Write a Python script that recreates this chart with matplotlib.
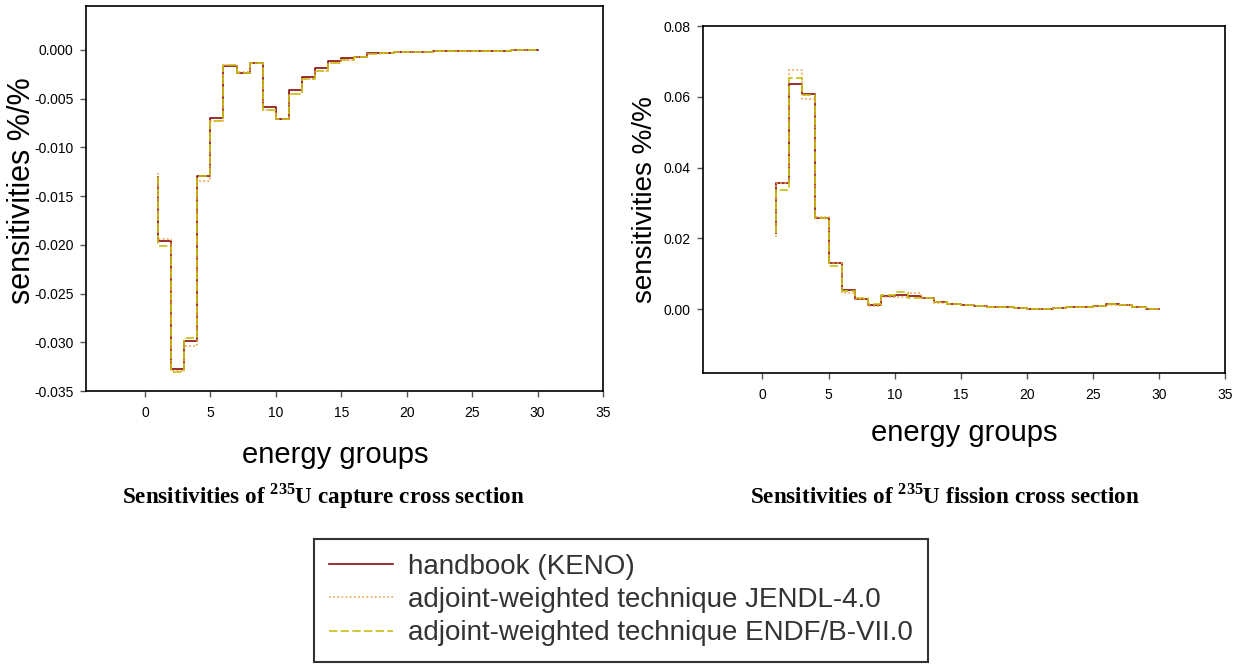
import matplotlib
matplotlib.use('Agg')
import matplotlib.pyplot as plt
from matplotlib.ticker import FormatStrFormatter

plt.rcParams['font.family'] = ['Liberation Sans', 'DejaVu Sans']
plt.rcParams['mathtext.fontset'] = 'custom'
plt.rcParams['mathtext.rm'] = 'Liberation Serif:bold'
plt.rcParams['mathtext.bf'] = 'Liberation Serif:bold'

# energy groups 1..30 (step plot, value at x holds over (x-1, x])
groups = list(range(1, 31))

capture_keno = [-0.0130, -0.0196, -0.0327, -0.0299, -0.0129, -0.0070, -0.0017, -0.0024,
                -0.0013, -0.0059, -0.0071, -0.0041, -0.0028, -0.0019, -0.0011, -0.0008,
                -0.0007, -0.0003, -0.0003, -0.0002, -0.0002, -0.0002, -0.0001, -0.0001,
                -0.0001, -0.0001, -0.0001, -0.0001, -0.00003, 0.0]
capture_jendl = [-0.0126, -0.0194, -0.0329, -0.0304, -0.0135, -0.0073, -0.0016, -0.0023,
                 -0.0013, -0.0062, -0.0071, -0.0045, -0.0030, -0.0022, -0.0013, -0.0010,
                 -0.0007, -0.0004, -0.0003, -0.0002, -0.0002, -0.0002, -0.0001, -0.0001,
                 -0.0001, -0.0001, -0.0001, -0.0001, -0.00003, 0.0]
capture_endf = [-0.0130, -0.0201, -0.0331, -0.0296, -0.0129, -0.0073, -0.0016, -0.0024,
                -0.0013, -0.0062, -0.0071, -0.0045, -0.0030, -0.0022, -0.0013, -0.0010,
                -0.0007, -0.0004, -0.0003, -0.0002, -0.0002, -0.0002, -0.0001, -0.0001,
                -0.0001, -0.0001, -0.0001, -0.0001, -0.00003, 0.0]

fission_keno = [0.0215, 0.0356, 0.0635, 0.0609, 0.0258, 0.0130, 0.0053, 0.0029, 0.0012,
                0.0038, 0.0041, 0.0038, 0.0033, 0.0020, 0.0016, 0.0012, 0.0008, 0.0006,
                0.0005, 0.0004, 0.0002, 0.0002, 0.0003, 0.0005, 0.0007, 0.0008, 0.0014,
                0.0012, 0.0007, 0.0000]
fission_jendl = [0.0204, 0.0358, 0.0677, 0.0593, 0.0260, 0.0132, 0.0045, 0.0028, 0.0009,
                 0.0034, 0.0036, 0.0045, 0.0033, 0.0018, 0.0014, 0.0012, 0.0008, 0.0006,
                 0.0005, 0.0004, 0.0002, 0.0002, 0.0003, 0.0005, 0.0007, 0.0008, 0.0013,
                 0.0012, 0.0006, 0.0000]
fission_endf = [0.0214, 0.0337, 0.0654, 0.0606, 0.0259, 0.0123, 0.0052, 0.0031, 0.0014,
                0.0039, 0.0048, 0.0033, 0.0033, 0.0020, 0.0014, 0.0012, 0.0008, 0.0006,
                0.0005, 0.0004, 0.0002, 0.0002, 0.0003, 0.0005, 0.0007, 0.0008, 0.0014,
                0.0012, 0.0007, 0.0002]

labels = ['handbook (KENO)',
          'adjoint-weighted technique JENDL-4.0',
          'adjoint-weighted technique ENDF/B-VII.0']
RED = '#8b0a0a'
ORANGE = '#f5a04a'
YELLOW = '#c8be14'

W, H = 1243, 664
fig = plt.figure(figsize=(W / 100, H / 100), dpi=100)

def box(l, t, r, b):
    return [l / W, 1 - b / H, (r - l) / W, (b - t) / H]

ax1 = fig.add_axes(box(86, 6, 603, 391))
ax2 = fig.add_axes(box(703, 26, 1225, 373))


def draw(ax, keno, jendl, endf, pad):
    ax.plot(groups, keno, drawstyle='steps-pre', color=RED, lw=1.2, label=labels[0])
    ax.plot(groups, jendl, drawstyle='steps-pre', color=ORANGE, lw=1.2, ls=(0, (1, 1.5)), label=labels[1])
    ax.plot(groups, endf, drawstyle='steps-pre', color=YELLOW, lw=1.2, ls=(0, (5, 2)), label=labels[2])
    ax.set_xlim(-4.5, 35)
    ax.set_xticks(range(0, 36, 5))
    ax.tick_params(direction='out', length=4, width=1, color='#555555', labelsize=10,
                   top=False, right=False)
    ax.tick_params(axis='x', pad=7)
    ax.tick_params(axis='y', pad=5)
    for s in ax.spines.values():
        s.set_linewidth(1.2)
    ax.set_xlabel('energy groups', fontsize=21, labelpad=pad)


draw(ax1, capture_keno, capture_jendl, capture_endf, 15)
ax1.xaxis.label.set_x(0.482)
ax1.set_ylim(-0.035, 0.0045)
ax1.set_yticks([-0.035, -0.030, -0.025, -0.020, -0.015, -0.010, -0.005, 0.0])
ax1.yaxis.set_major_formatter(FormatStrFormatter('%.3f'))
ax1.set_ylabel('sensitivities %/%', fontsize=22)
ax1.yaxis.set_label_coords(-0.095, 0.52)

draw(ax2, fission_keno, fission_jendl, fission_endf, 12)
ax2.set_ylim(-0.018, 0.08)
ax2.set_yticks([0.0, 0.02, 0.04, 0.06, 0.08])
ax2.yaxis.set_major_formatter(FormatStrFormatter('%.2f'))
ax2.set_ylabel('sensitivities %/%', fontsize=20)
ax2.yaxis.set_label_coords(-0.086, 0.5)

fig.text(323 / W, 1 - 496 / H, r'Sensitivities of $^{\mathbf{235}}$U capture cross section',
         family='Liberation Serif', weight='bold', fontsize=16.7, ha='center', va='center')
fig.text(945 / W, 1 - 496 / H, r'Sensitivities of $^{\mathbf{235}}$U fission cross section',
         family='Liberation Serif', weight='bold', fontsize=16.7, ha='center', va='center')

handles, _ = ax1.get_legend_handles_labels()
leg = fig.legend(handles, labels, loc='center', bbox_to_anchor=(621 / W, 1 - 600 / H),
                 fontsize=20, frameon=True, fancybox=False, handlelength=2.3,
                 labelspacing=0.26, borderpad=0.55, handletextpad=0.55, borderaxespad=0)
leg.get_frame().set_edgecolor('black')
leg.get_frame().set_linewidth(1.5)
for t in leg.get_texts():
    t.set_color('#333333')

fig.savefig('out.png', dpi=100)
